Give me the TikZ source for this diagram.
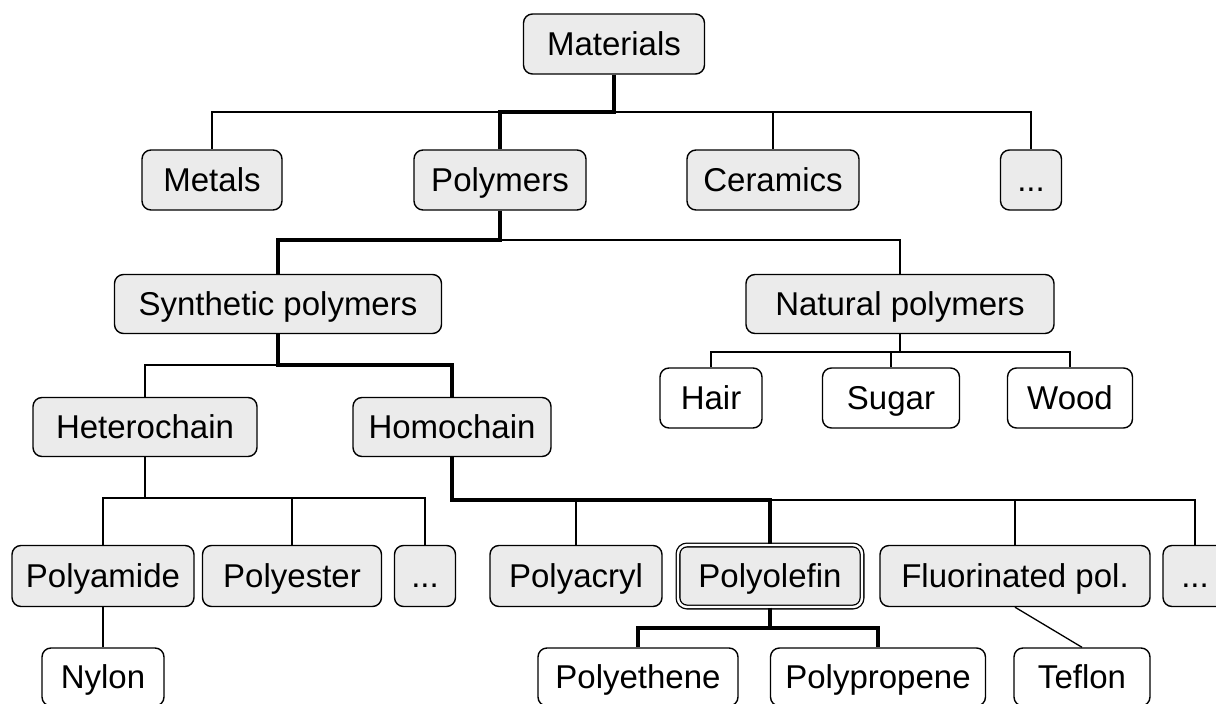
\documentclass[tikz,border=0pt]{standalone}
\usepackage{fontspec}
\setmainfont{Liberation Sans}
\definecolor{boxgray}{HTML}{EBEBEB}
\tikzset{
  box/.style={draw=black, line width=1.4pt, rounded corners=9pt, fill=boxgray,
    minimum height=60pt, inner sep=0pt, text height=24pt, text depth=2pt,
    font=\fontsize{33}{38}\selectfont},
  wbox/.style={box, fill=white},
  thin/.style={line width=1.3pt},
  thick/.style={line width=4pt},
}
\begin{document}
\begin{tikzpicture}[x=1pt,y=-1pt]
\useasboundingbox (0,0) rectangle (1216,704);
% nodes
\node[box, minimum width=181pt] (mat) at (614,44) {Materials};
\node[box, minimum width=140pt] (metals) at (212,180) {Metals};
\node[box, minimum width=172pt] (polymers) at (500,180) {Polymers};
\node[box, minimum width=172pt] (ceramics) at (773,180) {Ceramics};
\node[box, minimum width=61pt] (dotsa) at (1031,180) {...};
\node[box, minimum width=327pt, minimum height=59pt] (synth) at (278,304) {Synthetic polymers};
\node[box, minimum width=308pt, minimum height=59pt] (natural) at (900,304) {Natural polymers};
\node[wbox, minimum width=102pt] (hair) at (711,398) {Hair};
\node[wbox, minimum width=137pt] (sugar) at (891,398) {Sugar};
\node[wbox, minimum width=125pt] (wood) at (1070,398) {Wood};
\node[box, minimum width=224pt, minimum height=59pt] (hetero) at (145,427) {Heterochain};
\node[box, minimum width=198pt, minimum height=59pt] (homo) at (452,427) {Homochain};
\node[box, minimum width=182pt, minimum height=61pt] (polyamide) at (103,576) {Polyamide};
\node[box, minimum width=179pt, minimum height=61pt] (polyester) at (292,576) {Polyester};
\node[box, minimum width=61pt, minimum height=61pt] (dotsb) at (425,576) {...};
\node[box, minimum width=172pt, minimum height=61pt] (polyacryl) at (576,576) {Polyacryl};
\node[box, double, double distance=2.4pt, line width=1.3pt, minimum width=184pt, minimum height=62pt] (polyolefin) at (770,576) {Polyolefin};
\node[box, minimum width=270pt, minimum height=61pt] (fluor) at (1015,576) {Fluorinated pol.};
\node[box, minimum width=64pt, minimum height=61pt] (dotsc) at (1195,576) {...};
\node[wbox, minimum width=122pt, minimum height=58pt] (nylon) at (103,677) {Nylon};
\node[wbox, minimum width=200pt, minimum height=58pt] (polyethene) at (638,677) {Polyethene};
\node[wbox, minimum width=215pt, minimum height=58pt] (polypropene) at (878,677) {Polypropene};
\node[wbox, minimum width=136pt, minimum height=58pt] (teflon) at (1082,677) {Teflon};
% junctions
\coordinate (ja) at (614,112);
\coordinate (jb) at (500,240);
\coordinate (jc) at (278,365);
\coordinate (jd) at (900,352);
\coordinate (je) at (145,498);
\coordinate (jf) at (452,500);
\coordinate (jg) at (770,628);
% thin connectors
\draw[thin] (ja) -| (metals.north);
\draw[thin] (ja) -| (ceramics.north);
\draw[thin] (ja) -| (dotsa.north);
\draw[thin] (jb) -| (natural.north);
\draw[thin] (jc) -| (hetero.north);
\draw[thin] (natural.south) -- (jd);
\draw[thin] (jd) -| (hair.north);
\draw[thin] (jd) -| (sugar.north);
\draw[thin] (jd) -| (wood.north);
\draw[thin] (hetero.south) -- (je);
\draw[thin] (je) -| (polyamide.north);
\draw[thin] (je) -| (polyester.north);
\draw[thin] (je) -| (dotsb.north);
\draw[thin] (jf) -| (polyacryl.north);
\draw[thin] (jf) -| (fluor.north);
\draw[thin] (jf) -| (dotsc.north);
\draw[thin] (polyamide.south) -- (nylon.north);
\draw[thin] (fluor.south) -- (teflon.north);
% thick path
\draw[thick] (mat.south) -- (ja) -| (polymers.north);
\draw[thick] (polymers.south) -- (jb) -| (synth.north);
\draw[thick] (synth.south) -- (jc) -| (homo.north);
\draw[thick] (homo.south) -- (jf) -| (polyolefin.north);
\draw[thick] (polyolefin.south) -- (jg) -| (polyethene.north);
\draw[thick] (jg) -| (polypropene.north);
\end{tikzpicture}
\end{document}
